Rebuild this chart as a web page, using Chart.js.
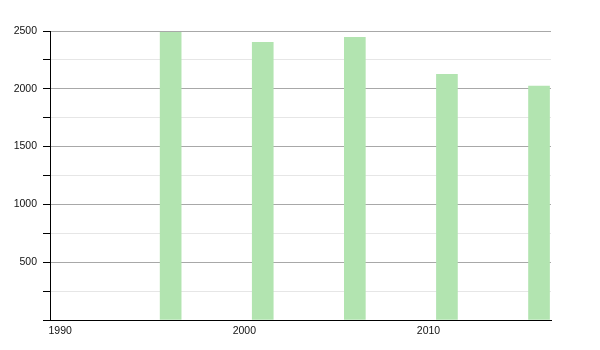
<!DOCTYPE html>
<html>
<head>
<meta charset="utf-8">
<script src="https://cdn.jsdelivr.net/npm/chart.js@4"></script>
<style>
  body { margin: 0; background: #fff; }
  #wrap { width: 600px; height: 350px; }
</style>
</head>
<body>
<div id="wrap"><canvas id="myChart"></canvas></div>
<script>
// census years and population
var years = [1996, 2001, 2006, 2011, 2016];
var population = [2489, 2402, 2446, 2126, 2023];
var yearTicks = [1990, 2000, 2010];
var popLabels = [500, 1000, 1500, 2000, 2500];

var ctx = document.getElementById('myChart').getContext('2d');
var chart = new Chart(ctx, {
    type: 'bar',
    data: {
        datasets: [{
            data: years.map(function (y, i) { return { x: y, y: population[i] }; }),
            backgroundColor: 'rgb(178, 228, 176)',
            borderWidth: 0,
            barThickness: 21
        }]
    },
    options: {
        responsive: true,
        maintainAspectRatio: false,
        animation: false,
        layout: { padding: { top: 31, right: 49, left: 0, bottom: 0 } },
        plugins: { legend: { display: false }, tooltip: { enabled: false } },
        scales: {
            x: {
                type: 'linear',
                offset: false,
                min: 1989.45,
                max: 2016.65,
                afterBuildTicks: function (s) {
                    s.ticks = yearTicks.map(function (v) { return { value: v }; });
                },
                afterFit: function (s) { s.height = 30; },
                grid: { display: false, offset: false, drawTicks: false },
                border: { color: '#000', width: 1 },
                ticks: {
                    color: '#111',
                    padding: 5,
                    maxRotation: 0,
                    font: { family: 'Liberation Sans, Arial', size: 10.5 },
                    callback: function (v) { return String(v); }
                }
            },
            y: {
                min: 0,
                max: 2500,
                afterFit: function (s) { s.width = 50; },
                border: { color: '#000', width: 1 },
                grid: {
                    color: function (c) {
                        return c.tick && c.tick.value % 500 === 0 ? '#a8a8a8' : '#e6e6e6';
                    },
                    tickColor: '#000',
                    tickLength: 7
                },
                ticks: {
                    stepSize: 250,
                    color: '#111',
                    padding: 6,
                    font: { family: 'Liberation Sans, Arial', size: 10.5 },
                    callback: function (v) { return popLabels.indexOf(v) >= 0 ? String(v) : ''; }
                }
            }
        }
    }
});
</script>
</body>
</html>
